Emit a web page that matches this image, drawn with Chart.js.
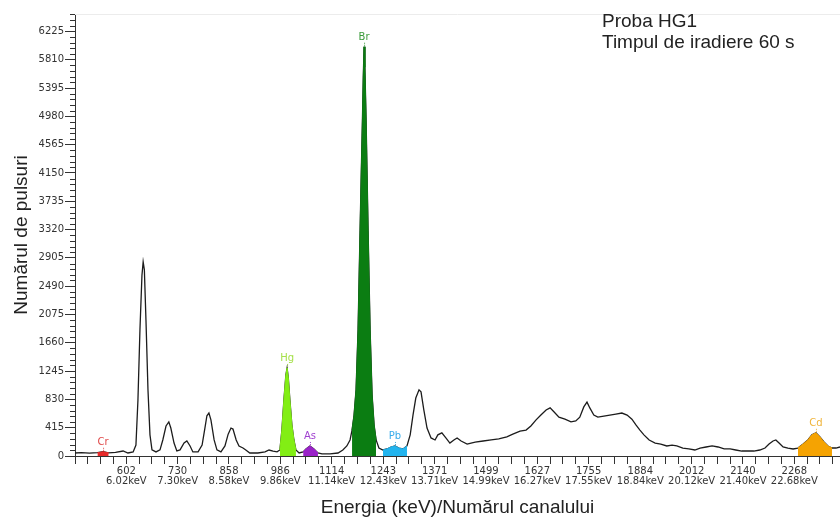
<!DOCTYPE html>
<html>
<head>
<meta charset="utf-8">
<script src="https://cdn.jsdelivr.net/npm/chart.js@4/dist/chart.umd.min.js"></script>
<style>
  html, body { margin: 0; padding: 0; background: #ffffff; }
  #wrap { position: relative; width: 840px; height: 519px; }
</style>
</head>
<body>
<div id="wrap"><canvas id="c"></canvas></div>
<script>
// ---- data ----
const channels = [474,490,510,530,544,558,575,594,606,619,626,631,636,641,644,647,651,656,661,666,676,686,693,701,708,713,721,728,736,746,753,761,768,781,791,798,803,808,813,821,828,838,848,856,863,868,876,883,893,900,910,930,948,958,968,978,985,990,995,1000,1003,1006,1010,1015,1020,1025,1033,1043,1050,1060,1070,1080,1090,1110,1130,1142,1152,1160,1165,1170,1175,1180,1185,1188,1191,1193,1195,1197,1200,1205,1210,1215,1220,1225,1232,1242,1252,1262,1272,1282,1292,1302,1310,1317,1324,1332,1337,1344,1352,1362,1372,1379,1389,1399,1409,1419,1427,1437,1452,1472,1492,1512,1531,1551,1566,1584,1599,1611,1624,1636,1649,1659,1669,1681,1696,1711,1723,1733,1743,1751,1758,1768,1778,1793,1808,1823,1838,1851,1863,1873,1883,1893,1906,1921,1935,1950,1963,1975,1990,2005,2020,2033,2048,2063,2078,2093,2108,2122,2137,2152,2167,2182,2195,2205,2215,2222,2230,2240,2252,2265,2277,2290,2302,2312,2322,2332,2342,2352,2362,2372,2382];
const counts = [44,50,42,48,62,46,52,73,44,60,160,820,1850,2650,2845,2730,1995,970,310,90,60,90,235,440,500,410,190,75,90,190,220,147,60,60,160,410,590,630,530,235,90,60,147,320,410,395,235,147,117,88,44,44,60,88,73,60,88,380,820,1190,1290,1145,820,455,235,88,44,60,103,147,103,44,30,30,44,88,147,235,380,600,970,1850,3310,4150,4950,5550,6000,5700,4925,3310,1850,895,455,235,117,88,103,132,147,117,103,147,310,600,850,970,940,675,410,265,235,310,340,265,190,235,265,220,175,205,220,235,250,280,320,365,380,440,530,600,675,705,645,570,540,500,515,570,720,790,705,600,570,585,600,615,630,600,540,455,380,310,235,190,175,147,160,147,117,103,88,117,132,147,132,103,103,88,73,73,73,88,117,175,220,235,190,132,117,103,117,175,235,310,340,280,205,147,117,117,132];

const elementNames = ['Cr','Hg','As','Br','Pb','Cd'];
const elementFrom  = [530, 985, 1043, 1165, 1242, 2277];
const elementTo    = [558, 1025, 1080, 1225, 1302, 2362];

const channelLabels = ['602','730','858','986','1114','1243','1371','1499','1627','1755','1884','2012','2140','2268'];
const keVLabels = ['6.02keV','7.30keV','8.58keV','9.86keV','11.14keV','12.43keV','13.71keV','14.99keV','16.27keV','17.55keV','18.84keV','20.12keV','21.40keV','22.68keV'];
const yTickValues = [0,415,830,1245,1660,2075,2490,2905,3320,3735,4150,4565,4980,5395,5810,6225];

const X_MIN = 474, X_MAX = 2382, Y_MAX = 6480;

// ---- styles ----
const fillColors  = ['#e82a2a','#82ee14','#9a22c8','#0b7d12','#22b4ee','#f5a302'];
const labelColors = ['#e04848','#a6e04a','#a040d0','#3a9a3a','#38acea','#f0b43a'];

const majorVals = channelLabels.map(Number);
function buildXTicks() {
  const t = [];
  const step0 = (majorVals[1] - majorVals[0]) / 4;
  for (let j = 4; j >= 1; j--) t.push(majorVals[0] - j * step0);
  for (let i = 0; i < majorVals.length; i++) {
    t.push(majorVals[i]);
    const next = i + 1 < majorVals.length ? majorVals[i + 1] : majorVals[i] + (majorVals[i] - majorVals[i - 1]);
    const st = (next - majorVals[i]) / 4;
    for (let j = 1; j < 4; j++) {
      const v = majorVals[i] + j * st;
      if (v <= X_MAX) t.push(v);
    }
  }
  return t.filter(v => v >= X_MIN - 0.5 && v <= X_MAX);
}

const mainPts = channels.map((c, i) => ({ x: c, y: counts[i] }));
const datasets = [{
  label: 'spectrum',
  data: mainPts,
  borderColor: '#1c1c1c',
  borderWidth: 1.3,
  pointRadius: 0,
  tension: 0,
  fill: false,
  order: 1
}];
elementNames.forEach((n, k) => {
  datasets.push({
    label: n,
    data: mainPts.filter(p => p.x >= elementFrom[k] && p.x <= elementTo[k]),
    borderColor: fillColors[k],
    backgroundColor: fillColors[k],
    borderWidth: 1,
    pointRadius: 0,
    tension: 0,
    fill: 'origin',
    order: 0
  });
});

const extras = {
  id: 'extras',
  afterDraw(chart) {
    const ctx = chart.ctx;
    const ys = chart.scales.y, xs = chart.scales.x;
    const area = chart.chartArea;
    ctx.save();
    // faint top border
    ctx.strokeStyle = '#ececec';
    ctx.lineWidth = 1;
    ctx.beginPath();
    ctx.moveTo(area.left, area.top + 0.5);
    ctx.lineTo(area.right, area.top + 0.5);
    ctx.stroke();
    // minor y ticks
    ctx.strokeStyle = '#333';
    ctx.beginPath();
    for (let v = 83; v <= Y_MAX; v += 83) {
      if (v % 415 === 0) continue;
      const py = Math.round(ys.getPixelForValue(v)) + 0.5;
      ctx.moveTo(area.left - 5, py);
      ctx.lineTo(area.left, py);
    }
    ctx.stroke();
    // element labels
    ctx.font = '10px "DejaVu Sans"';
    ctx.textAlign = 'center';
    ctx.textBaseline = 'alphabetic';
    elementNames.forEach((n, k) => {
      const pts = chart.data.datasets[k + 1].data;
      let best = pts[0];
      pts.forEach(p => { if (p.y > best.y) best = p; });
      const px = xs.getPixelForValue(best.x);
      const py = ys.getPixelForValue(best.y);
      ctx.strokeStyle = labelColors[k];
      ctx.setLineDash([1, 1]);
      ctx.beginPath();
      ctx.moveTo(px + 0.5, py - 1);
      ctx.lineTo(px + 0.5, py - 5);
      ctx.stroke();
      ctx.setLineDash([]);
      ctx.fillStyle = labelColors[k];
      ctx.fillText(n, px, py - 7);
    });
    // sample annotation
    ctx.fillStyle = '#222';
    ctx.font = '19px "Liberation Sans", Arial, sans-serif';
    ctx.textAlign = 'left';
    ctx.fillText('Proba HG1', 602, 27);
    ctx.fillText('Timpul de iradiere 60 s', 602, 48);
    ctx.restore();
  }
};

new Chart(document.getElementById('c'), {
  type: 'line',
  data: { datasets },
  plugins: [extras],
  options: {
    responsive: true,
    maintainAspectRatio: false,
    animation: false,
    layout: { padding: { top: 14, left: 0, right: 0, bottom: 0 } },
    plugins: { legend: { display: false }, tooltip: { enabled: false } },
    scales: {
      x: {
        type: 'linear',
        min: X_MIN,
        max: X_MAX,
        afterBuildTicks: (scale) => { scale.ticks = buildXTicks().map(v => ({ value: v })); },
        afterFit: (scale) => { scale.height = 63; },
        grid: { drawOnChartArea: false, color: '#333', tickLength: 8, lineWidth: 1 },
        border: { display: true, color: '#333', width: 1 },
        ticks: {
          autoSkip: false,
          maxRotation: 0,
          minRotation: 0,
          padding: 2,
          color: '#333',
          font: { family: 'DejaVu Sans', size: 10, lineHeight: 1.0 },
          callback: (value) => {
            const i = majorVals.findIndex(m => Math.abs(m - value) < 0.5);
            return i >= 0 ? [channelLabels[i], keVLabels[i]] : '';
          }
        },
        title: {
          display: true,
          text: 'Energia (keV)/Numărul canalului',
          color: '#222',
          font: { family: 'Liberation Sans', size: 19 },
          padding: { top: 0, bottom: 0 }
        }
      },
      y: {
        type: 'linear',
        min: 0,
        max: Y_MAX,
        afterBuildTicks: (scale) => { scale.ticks = yTickValues.map(v => ({ value: v })); },
        afterFit: (scale) => { scale.width = 75; },
        grid: { drawOnChartArea: false, color: '#333', tickLength: 10, lineWidth: 1 },
        border: { display: true, color: '#333', width: 1 },
        ticks: {
          padding: 1,
          color: '#333',
          font: { family: 'DejaVu Sans', size: 10 },
          callback: (v) => String(v)
        },
        title: {
          display: true,
          text: 'Numărul de pulsuri',
          color: '#222',
          font: { family: 'Liberation Sans', size: 19 },
          padding: { top: 10, bottom: 0 }
        }
      }
    }
  }
});
</script>
</body>
</html>
